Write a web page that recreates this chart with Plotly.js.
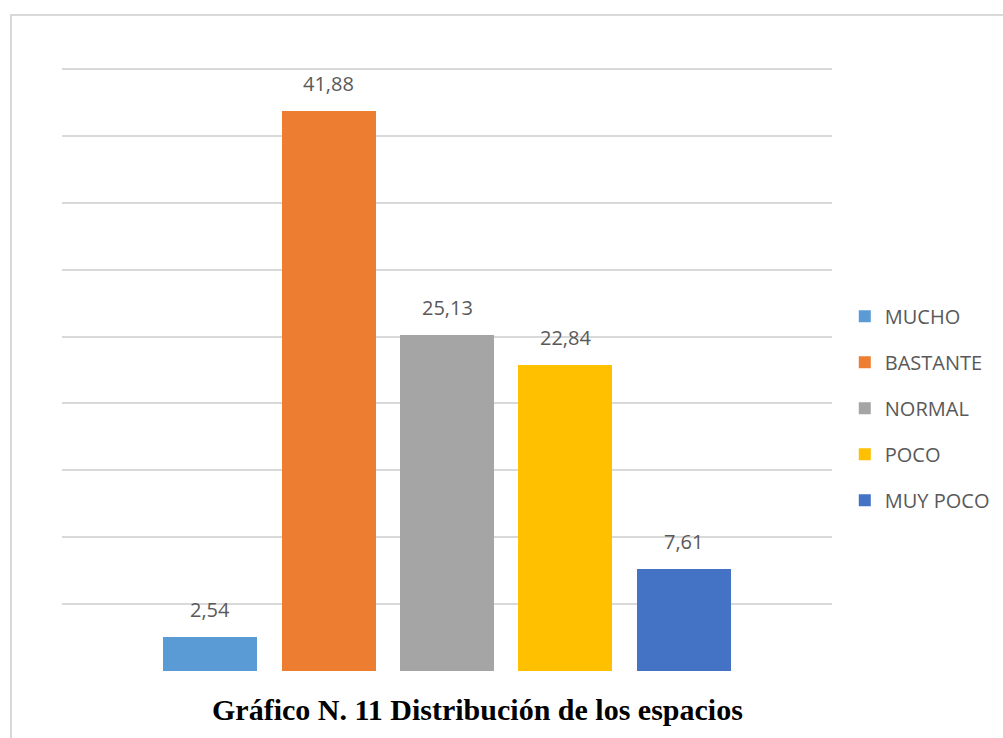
<!DOCTYPE html>
<html>
<head>
<meta charset="utf-8">
<script src="https://cdn.plot.ly/plotly-3.0.1.min.js"></script>
<style>
  html, body { margin: 0; padding: 0; background: #fff; }
  #frame { position: absolute; left: 10px; top: 14px; width: 993px; height: 724px;
           border-top: 2px solid #d9d9d9; border-left: 2px solid #d9d9d9; box-sizing: border-box; }
  #chart { position: absolute; left: 0; top: 0; width: 1003px; height: 738px; }
</style>
</head>
<body>
<div id="frame"></div>
<div id="chart"></div>
<script>
// Respuestas sobre la distribución de los espacios (%)
const categories = ["MUCHO", "BASTANTE", "NORMAL", "POCO", "MUY POCO"];
const values = [2.54, 41.88, 25.13, 22.84, 7.61];
const colors = ["#5b9bd5", "#ed7d31", "#a5a5a5", "#ffc000", "#4472c4"];
const yTicks = [0, 5, 10, 15, 20, 25, 30, 35, 40, 45];

const labelFont = { family: "Open Sans, DejaVu Sans, sans-serif", size: 20, color: "#595959" };
const fmt = v => v.toFixed(2).replace(".", ",");

// one trace per answer so each gets its own legend entry
const traces = categories.map((name, i) => ({
  type: "bar",
  name: name,
  legendgroup: name,
  x: [name],
  y: [values[i]],
  marker: { color: colors[i] },
  hoverinfo: "skip"
}));

// value labels sitting above each bar
const valueLabels = categories.map((name, i) => ({
  xref: "x", yref: "y",
  x: name, y: values[i],
  text: fmt(values[i]),
  xanchor: "center", yanchor: "bottom",
  yshift: 12,
  showarrow: false,
  font: labelFont
}));

const layout = {
  width: 1003,
  height: 738,
  paper_bgcolor: "rgba(0,0,0,0)",
  plot_bgcolor: "rgba(0,0,0,0)",
  margin: { l: 62, r: 171, t: 65, b: 67, autoexpand: false },
  barmode: "stack",
  bargap: 0.207,
  showlegend: true,
  legend: {
    x: 1.0166, y: 0.4334, xanchor: "left", yanchor: "middle",
    font: labelFont,
    tracegroupgap: 17,
    itemwidth: 30,
    bgcolor: "rgba(0,0,0,0)"
  },
  xaxis: {
    type: "category",
    range: [-1.25, 5.25],
    showticklabels: false,
    showgrid: false,
    zeroline: false,
    showline: false,
    ticks: ""
  },
  yaxis: {
    range: [0, 45.3],
    tickvals: yTicks,
    showticklabels: false,
    showgrid: true,
    gridcolor: "#d9d9d9",
    gridwidth: 2,
    zeroline: false,
    showline: false,
    ticks: ""
  },
  annotations: valueLabels.concat([{
    text: "<b>Gráfico N. 11 Distribución de los espacios</b>",
    xref: "paper", yref: "paper",
    x: (478 - 62) / 770, y: -(709 - 671) / 606,
    xanchor: "center", yanchor: "middle",
    showarrow: false,
    font: { family: "Liberation Serif, Times New Roman, serif", size: 30, color: "#000" }
  }])
};

Plotly.newPlot("chart", traces, layout, { displayModeBar: false, staticPlot: true });
</script>
</body>
</html>
